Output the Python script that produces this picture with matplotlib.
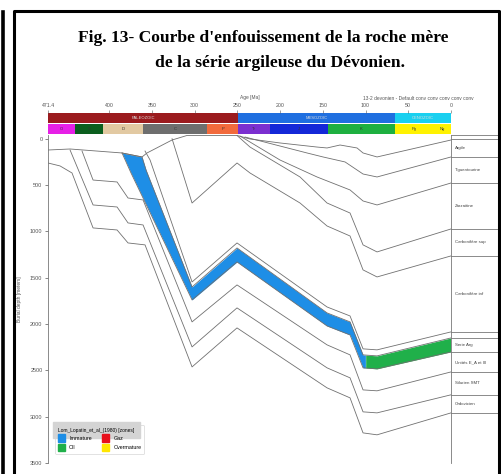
import numpy as np
import matplotlib.pyplot as plt
from matplotlib.patches import Patch
from matplotlib.lines import Line2D

plt.rcParams['font.family'] = ['Liberation Sans', 'DejaVu Sans']

# ---- data (age in Ma, depth in m) ----
surf_age = [471.4, 445.6, 384.8, 361.4, 355.6, 326.3, 308.8, 250.3, 235.1, 200.0, 156.7, 145.0, 129.8, 109.9, 102.9, 86.5, 0]
surf_depth = [122, 111, 154, 197, 154, 14, -35, -35, 3, 46, 90, 100, 68, 100, 154, 197, 14]

h157_age = [240.9, 200.0, 168.4, 149.7, 123.9, 102.9, 86.5, 0]
h157_depth = [-18, 79, 154, 197, 251, 381, 413, 197]

h183_age = [246.8, 200.0, 156.7, 118.1, 102.9, 86.5, 0]
h183_depth = [-29, 230, 413, 553, 672, 715, 478]

h229_age = [250.3, 235.1, 176.6, 145.0, 118.1, 102.9, 86.5, 0]
h229_depth = [-35, 90, 413, 694, 802, 1146, 1222, 974]

h256_age = [326.3, 302.9, 250.3, 235.1, 176.6, 145.0, 118.1, 102.9, 86.5, 0]
h256_depth = [0, 694, 262, 370, 694, 942, 1050, 1416, 1492, 1265]

hthin_age = [357.9, 352.0, 302.9, 250.3, 145.0, 118.1, 102.9, 86.5, 0]
hthin_depth = [133, 230, 1546, 1125, 1816, 1913, 2268, 2279, 2085]

# source rock (serie argileuse du Devonien)
srtop_age = [384.8, 361.4, 356.7, 302.9, 250.3, 145.0, 118.1, 102.9, 86.5, 0]
srtop_depth = [154, 197, 338, 1600, 1179, 1880, 1977, 2333, 2344, 2150]
srbase_age = [384.8, 374.3, 302.9, 250.3, 145.0, 118.1, 102.9, 86.5, 0]
srbase_depth = [154, 370, 1740, 1330, 2021, 2118, 2473, 2484, 2301]

h372_age = [431.6, 418.7, 390.6, 377.8, 360.2, 302.9, 250.3, 145.0, 118.1, 102.9, 86.5, 0]
h372_depth = [133, 446, 467, 640, 661, 1977, 1578, 2225, 2333, 2711, 2721, 2517]

h395_age = [445.6, 418.7, 390.6, 377.8, 360.2, 302.9, 250.3, 145.0, 118.1, 102.9, 86.5, 0]
h395_depth = [122, 715, 737, 909, 931, 2247, 1826, 2473, 2581, 2948, 2959, 2764]

h413_age = [471.4, 457.3, 443.3, 418.7, 390.6, 377.8, 357.9, 302.9, 250.3, 145.0, 118.1, 102.9, 86.5, 0]
h413_depth = [262, 294, 370, 963, 985, 1125, 1146, 2463, 2042, 2689, 2797, 3175, 3196, 2959]

oil_window_age = 100  # band turns green (oil) after this age

eras = ["PALEOZOIC", "MESOZOIC", "CENOZOIC"]
era_bounds = [471.4, 249, 65.5, 0]
era_colors = ["#9b1b1e", "#1f6fe0", "#1ad0f0"]

periods = ["O", "S", "D", "C", "P", "Tr", "J", "K", "Pg", "Ng"]
period_bounds = [471.4, 440, 407, 360, 285, 249, 212, 144, 65.5, 21, 0]
period_colors = ["#e620e6", "#0b5e1e", "#e2c9a2", "#6e6e6e", "#f26a3c",
                 "#7b2fd0", "#1428d8", "#1eb040", "#fff200", "#fff200"]

age_ticks = [471.4, 400, 350, 300, 250, 200, 150, 100, 50, 0]
age_labels = ["471.4", "400", "350", "300", "250", "200", "150", "100", "50", "0"]
depth_ticks = [0, 500, 1000, 1500, 2000, 2500, 3000, 3500]

formations = ["Argile", "Tiguentourine", "Zarzaitine", "Carbonifère sup", "Carbonifère inf",
              "", "Serie Arg", "Unités E_A et III", "Silurien SMT", "Ordovicien"]

legend_labels = ["Immature", "Oil", "Gaz", "Overmature"]
legend_colors = ["#1e8ee6", "#20b04a", "#e8101c", "#ffe600"]

W, H = 501, 474
fig = plt.figure(figsize=(W / 100, H / 100), dpi=100)


def box(x0, y0, x1, y1):
    # pixel box -> figure fraction
    return [x0 / W, 1 - y1 / H, (x1 - x0) / W, (y1 - y0) / H]


ax = fig.add_axes(box(48, 135, 451, 463))
ax_era = fig.add_axes(box(48, 113, 451, 123))
ax_per = fig.add_axes(box(48, 124, 451, 134))
ax_r = fig.add_axes(box(451, 135, 499, 463))

# burial curves
line_c = "#707070"
grid = np.linspace(0, srtop_age[0], 1200)
top = np.interp(grid, srtop_age[::-1], srtop_depth[::-1])
base = np.interp(grid, srbase_age[::-1], srbase_depth[::-1])
ax.fill_between(grid, top, base, where=grid >= oil_window_age, color="#1e8ee6", lw=0)
ax.fill_between(grid, top, base, where=grid <= oil_window_age, color="#20b04a", lw=0)

for a, d in [(surf_age, surf_depth), (h157_age, h157_depth), (h183_age, h183_depth),
             (h229_age, h229_depth), (h256_age, h256_depth), (hthin_age, hthin_depth),
             (srtop_age, srtop_depth), (srbase_age, srbase_depth), (h372_age, h372_depth),
             (h395_age, h395_depth), (h413_age, h413_depth)]:
    ax.plot(a, d, color=line_c, lw=0.6)

ax.set_xlim(471.4, 0)
ax.set_ylim(3500, -40)
ax.set_xticks([])
ax.set_yticks(depth_ticks)
ax.set_yticklabels([str(v) for v in depth_ticks])
ax.tick_params(axis="y", labelsize=4, colors="#555555", length=2, width=0.5, pad=2)
for s in ["top", "right", "bottom"]:
    ax.spines[s].set_visible(False)
ax.spines["left"].set_color("#777777")
ax.spines["left"].set_linewidth(0.6)
ax.set_ylabel("Burial depth [meters]", fontsize=3.5, color="#555555", labelpad=6)

leg = ax.legend([Patch(color=c) for c in legend_colors], legend_labels, ncol=2,
                loc="lower left", bbox_to_anchor=(0.012, 0.02), fontsize=3.8,
                title="Lom_Lopatin_et_al_(1980) [zones]", title_fontsize=3.5,
                frameon=True, handlelength=1.3, handleheight=1.8, columnspacing=2.0,
                borderpad=0.5, labelspacing=0.35, alignment="left")
leg.get_frame().set_edgecolor("#cccccc")
leg.get_frame().set_linewidth(0.5)
leg.get_title().set_backgroundcolor("#d4d4d4")

# era and period bars
for k, name in enumerate(eras):
    ax_era.axvspan(era_bounds[k], era_bounds[k + 1], color=era_colors[k], lw=0)
    ax_era.text((era_bounds[k] + era_bounds[k + 1]) / 2, 0.5, name, ha="center", va="center",
                fontsize=3, color="#dddddd")
for k, name in enumerate(periods):
    ax_per.axvspan(period_bounds[k], period_bounds[k + 1], color=period_colors[k], lw=0)
    ax_per.text((period_bounds[k] + period_bounds[k + 1]) / 2, 0.5, name, ha="center", va="center",
                fontsize=3, color="#333333")
for a in (ax_era, ax_per):
    a.set_xlim(471.4, 0)
    a.set_ylim(0, 1)
    a.set_yticks([])
    for s in a.spines.values():
        s.set_visible(False)
ax_per.set_xticks([])
ax_era.xaxis.tick_top()
ax_era.set_xticks(age_ticks)
ax_era.set_xticklabels(age_labels)
ax_era.tick_params(axis="x", labelsize=3.8, colors="#555555", length=2, width=0.4, pad=1.5)
ax_era.set_xlabel("Age [Ma]", fontsize=3.5, color="#555555", labelpad=3)
ax_era.xaxis.set_label_position("top")

# formation column
pres = [0] + [h[-1] for h in (h157_depth, h183_depth, h229_depth, h256_depth, hthin_depth,
                                srtop_depth, srbase_depth, h372_depth, h395_depth, h413_depth)]
ax_r.set_ylim(3500, -40)
ax_r.set_xlim(0, 1)
for d in pres:
    ax_r.axhline(d, color="#777777", lw=0.6)
for k, name in enumerate(formations):
    ax_r.text(0.08, (pres[k] + pres[k + 1]) / 2, name, fontsize=3.2, color="#444444", va="center")
ax_r.set_xticks([])
ax_r.set_yticks([])
for s in ["bottom", "right"]:
    ax_r.spines[s].set_visible(False)
for s in ["top", "left"]:
    ax_r.spines[s].set_color("#777777")
    ax_r.spines[s].set_linewidth(0.6)

# titles
fig.text(78 / W, 1 - 38 / H, "Fig. 13- Courbe d'enfouissement de la roche mère",
         family="Liberation Serif", weight="bold", fontsize=12.6, va="center")
fig.text(155 / W, 1 - 63 / H, "de la série argileuse du Dévonien.",
         family="Liberation Serif", weight="bold", fontsize=12.6, va="center")
fig.text(363 / W, 1 - 98 / H, "13-2 devonien - Default conv conv conv conv conv",
         fontsize=3.5, color="#555555", va="center")

# black frame
fig.add_artist(Line2D([2.5 / W, 2.5 / W], [0, 1 - 12 / H], color="black", lw=2.6))
fig.add_artist(Line2D([14 / W, 14 / W, 499 / W, 499 / W], [0, 1 - 10.5 / H, 1 - 10.5 / H, 0],
                      color="black", lw=2.2))

fig.savefig("out.png", dpi=100)
